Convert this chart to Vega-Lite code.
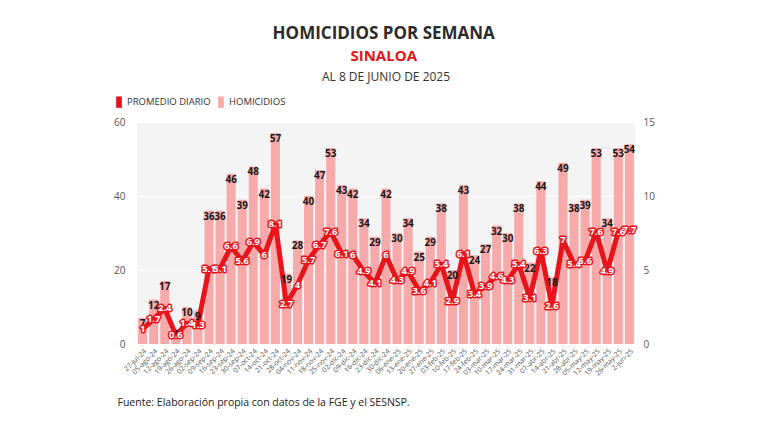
{
  "$schema": "https://vega.github.io/schema/vega-lite/v6.json",
  "background": "white",
  "padding": {"left": 113, "top": 25, "right": 5, "bottom": 5},
  "title": {
    "text": "HOMICIDIOS POR SEMANA",
    "subtitle": "SINALOA",
    "anchor": "middle",
    "font": "Open Sans",
    "fontSize": 17,
    "fontWeight": "bold",
    "color": "#2b2b2b",
    "subtitleFont": "Open Sans",
    "subtitleFontSize": 15,
    "subtitleFontWeight": "bold",
    "subtitleColor": "#e3141b",
    "subtitlePadding": 6,
    "offset": 6
  },
  "data": {
    "values": [
      {"fecha": "27-jul-24", "hom": 7, "prom": 1},
      {"fecha": "05-ago-24", "hom": 12, "prom": 1.7},
      {"fecha": "12-ago-24", "hom": 17, "prom": 2.4},
      {"fecha": "19-ago-24", "hom": 4, "prom": 0.6},
      {"fecha": "26-ago-24", "hom": 10, "prom": 1.4},
      {"fecha": "02-sep-24", "hom": 9, "prom": 1.3},
      {"fecha": "09-sep-24", "hom": 36, "prom": 5.1},
      {"fecha": "16-sep-24", "hom": 36, "prom": 5.1},
      {"fecha": "23-sep-24", "hom": 46, "prom": 6.6},
      {"fecha": "30-sep-24", "hom": 39, "prom": 5.6},
      {"fecha": "07-oct-24", "hom": 48, "prom": 6.9},
      {"fecha": "14-oct-24", "hom": 42, "prom": 6},
      {"fecha": "21-oct-24", "hom": 57, "prom": 8.1},
      {"fecha": "28-oct-24", "hom": 19, "prom": 2.7},
      {"fecha": "04-nov-24", "hom": 28, "prom": 4},
      {"fecha": "11-nov-24", "hom": 40, "prom": 5.7},
      {"fecha": "18-nov-24", "hom": 47, "prom": 6.7},
      {"fecha": "25-nov-24", "hom": 53, "prom": 7.6},
      {"fecha": "02-dic-24", "hom": 43, "prom": 6.1},
      {"fecha": "09-dic-24", "hom": 42, "prom": 6},
      {"fecha": "16-dic-24", "hom": 34, "prom": 4.9},
      {"fecha": "23-dic-24", "hom": 29, "prom": 4.1},
      {"fecha": "30-dic-24", "hom": 42, "prom": 6},
      {"fecha": "06-ene-25", "hom": 30, "prom": 4.3},
      {"fecha": "13-ene-25", "hom": 34, "prom": 4.9},
      {"fecha": "20-ene-25", "hom": 25, "prom": 3.6},
      {"fecha": "27-ene-25", "hom": 29, "prom": 4.1},
      {"fecha": "03-feb-25", "hom": 38, "prom": 5.4},
      {"fecha": "10-feb-25", "hom": 20, "prom": 2.9},
      {"fecha": "17-feb-25", "hom": 43, "prom": 6.1},
      {"fecha": "24-feb-25", "hom": 24, "prom": 3.4},
      {"fecha": "03-mar-25", "hom": 27, "prom": 3.9},
      {"fecha": "10-mar-25", "hom": 32, "prom": 4.6},
      {"fecha": "17-mar-25", "hom": 30, "prom": 4.3},
      {"fecha": "24-mar-25", "hom": 38, "prom": 5.4},
      {"fecha": "31-mar-25", "hom": 22, "prom": 3.1},
      {"fecha": "07-abr-25", "hom": 44, "prom": 6.3},
      {"fecha": "14-abr-25", "hom": 18, "prom": 2.6},
      {"fecha": "21-abr-25", "hom": 49, "prom": 7},
      {"fecha": "28-abr-25", "hom": 38, "prom": 5.4},
      {"fecha": "05-may-25", "hom": 39, "prom": 5.6},
      {"fecha": "12-may-25", "hom": 53, "prom": 7.6},
      {"fecha": "19-may-25", "hom": 34, "prom": 4.9},
      {"fecha": "26-may-25", "hom": 53, "prom": 7.6},
      {"fecha": "2-jun-25", "hom": 54, "prom": 7.7}
    ]
  },
  "vconcat": [
    {
      "title": {
        "text": "AL 8 DE JUNIO DE 2025",
        "font": "Open Sans",
        "fontSize": 12,
        "fontWeight": "normal",
        "color": "#333333",
        "anchor": "middle",
        "offset": 33
      },
      "width": 498,
      "height": 222,
      "encoding": {
        "x": {
          "field": "fecha",
          "type": "nominal",
          "sort": null,
          "scale": {"paddingInner": 0.18, "paddingOuter": 0.1},
          "axis": {
            "title": "Fuente: Elaboración propia con datos de la FGE y el SESNSP.",
            "titleFont": "Open Sans",
            "titleFontSize": 10.5,
            "titleFontWeight": "normal",
            "titleColor": "#222222",
            "titleAnchor": "start",
            "titleAlign": "left",
            "titleBaseline": "middle",
            "titleX": -20,
            "titleY": 58,
            "labelAngle": -45,
            "labelFont": "Open Sans",
            "labelFontSize": 7,
            "labelColor": "#555555",
            "labelPadding": 3,
            "ticks": false,
            "domain": false,
            "grid": false
          }
        }
      },
      "layer": [
        {
          "mark": {"type": "bar"},
          "encoding": {
            "y": {
              "field": "hom",
              "type": "quantitative",
              "scale": {"domain": [0, 60]},
              "axis": {
                "title": null,
                "values": [0, 20, 40, 60],
                "orient": "left",
                "labelFont": "Open Sans",
                "labelFontSize": 10,
                "labelColor": "#555555",
                "labelPadding": 12,
                "ticks": false,
                "domain": false,
                "grid": true,
                "gridColor": "#ffffff",
                "gridWidth": 1
              }
            },
            "color": {
              "datum": "HOMICIDIOS",
              "type": "nominal",
              "scale": {
                "domain": ["PROMEDIO DIARIO", "HOMICIDIOS"],
                "range": ["#e3141b", "#f8a9a9"]
              },
              "legend": {
                "title": null,
                "orient": "none",
                "direction": "horizontal",
                "legendX": -24,
                "legendY": -26,
                "symbolType": "M-0.5,-1H0.5V1H-0.5Z",
                "symbolSize": 130,
                "symbolStrokeWidth": 0,
                "symbolOpacity": 1,
                "labelFont": "Open Sans",
                "labelFontSize": 9.5,
                "labelColor": "#333333",
                "labelOffset": 2,
                "columnPadding": 4
              }
            }
          }
        },
        {
          "mark": {"type": "line", "color": "#e8141c", "strokeWidth": 5, "strokeJoin": "round"},
          "encoding": {
            "y": {
              "field": "prom",
              "type": "quantitative",
              "scale": {"domain": [0, 15]},
              "axis": {
                "title": null,
                "orient": "right",
                "values": [0, 5, 10, 15],
                "labelFont": "Open Sans",
                "labelFontSize": 10,
                "labelColor": "#555555",
                "labelPadding": 8,
                "ticks": false,
                "domain": false,
                "grid": false
              }
            }
          }
        },
        {
          "mark": {"type": "text", "baseline": "top", "dy": 1, "font": "Open Sans", "fontSize": 10, "fontWeight": "bold", "color": "#1a1a1a"},
          "encoding": {
            "y": {"field": "hom", "type": "quantitative", "scale": {"domain": [0, 60]}, "axis": null},
            "text": {"field": "hom", "type": "quantitative"}
          }
        },
        {
          "mark": {"type": "text", "baseline": "middle", "font": "Open Sans", "fontSize": 9.5, "fontWeight": "bold", "fill": "#e8141c", "stroke": "#e8141c", "strokeWidth": 3, "strokeJoin": "round"},
          "encoding": {
            "y": {"field": "prom", "type": "quantitative", "scale": {"domain": [0, 15]}, "axis": null},
            "text": {"field": "prom", "type": "quantitative"}
          }
        },
        {
          "mark": {"type": "text", "baseline": "middle", "font": "Open Sans", "fontSize": 9.5, "fontWeight": "bold", "color": "#ffffff"},
          "encoding": {
            "y": {"field": "prom", "type": "quantitative", "scale": {"domain": [0, 15]}, "axis": null},
            "text": {"field": "prom", "type": "quantitative"}
          }
        }
      ],
      "resolve": {"scale": {"y": "independent"}}
    }
  ],
  "config": {
    "view": {"fill": "#f4f4f4", "stroke": null}
  }
}
